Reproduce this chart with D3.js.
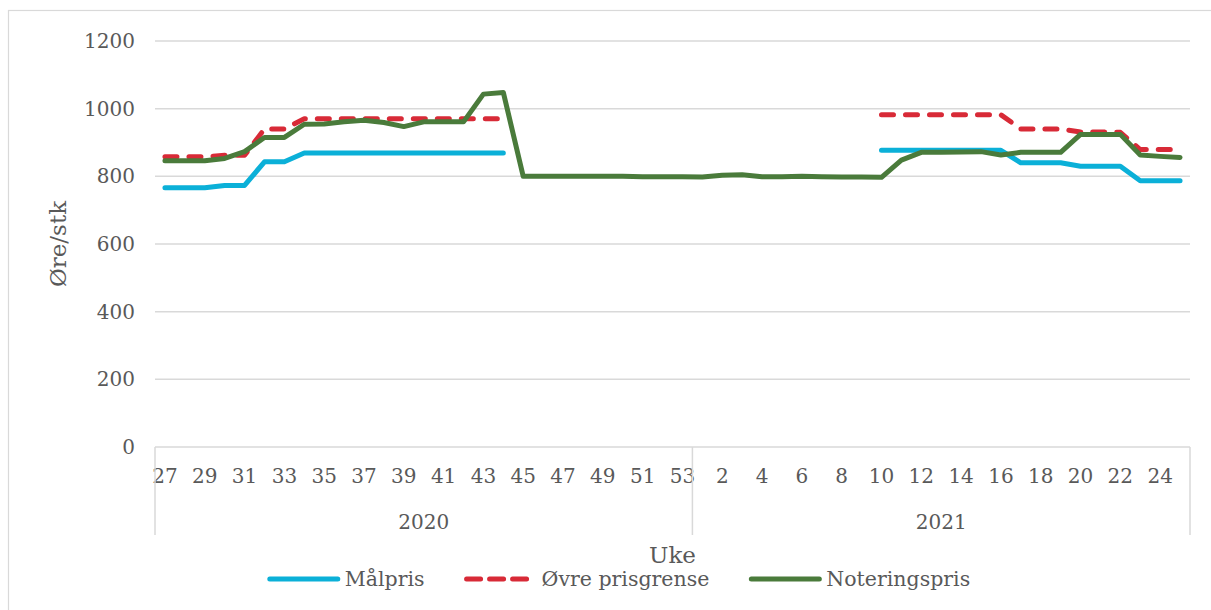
<!DOCTYPE html>
<html>
<head>
<meta charset="utf-8">
<script src="https://cdn.jsdelivr.net/npm/d3@7"></script>
<style>
  html, body { margin: 0; padding: 0; background: #fff; }
  svg { display: block; }
  text { font-family: "DejaVu Serif", "Liberation Serif", serif; fill: #595959; }
</style>
</head>
<body>
<svg id="chart" width="1211" height="610"></svg>
<script>
// ---- data ----
const years = ["2020", "2021"];
const weeks2020 = d3.range(27, 54);   // 27..53
const weeks2021 = d3.range(1, 26);    // 1..25
const yTicks = [0, 200, 400, 600, 800, 1000, 1200];
const seriesNames = ["Målpris", "Øvre prisgrense", "Noteringspris"];

// Målpris (null = no value), weeks 27..53 of 2020
const malpris2020 = [766, 766, 766, 773, 773, 843, 843,
  869, 869, 869, 869, 869, 869, 869, 869, 869, 869, 869,
  null, null, null, null, null, null, null, null, null];
// weeks 1..25 of 2021
const malpris2021 = [null, null, null, null, null, null, null, null, null,
  877, 877, 877, 877, 877, 877, 877, 840, 840, 840, 830, 830, 830, 787, 787, 787];

// Øvre prisgrense
const ovre2020 = [858, 858, 858, 862, 862, 940, 940,
  970, 970, 970, 970, 970, 970, 970, 970, 970, 970, 970,
  null, null, null, null, null, null, null, null, null];
const ovre2021 = [null, null, null, null, null, null, null, null, null,
  982, 982, 982, 982, 982, 982, 982, 940, 940, 940, 931, 931, 930, 879, 879, 879];

// Noteringspris
const notering2020 = [846, 846, 846, 853, 873, 915, 915, 954, 955, 961, 966, 959, 947, 961, 961, 961, 1043, 1048,
  800, 800, 800, 800, 800, 800, 799, 799, 799];
const notering2021 = [798, 803, 805, 799, 799, 800, 799, 798, 798, 797, 848, 871, 871, 872, 873, 863,
  871, 871, 871, 924, 924, 924, 863, 859, 856];

// ---- build categories ----
const cats = [];
weeks2020.forEach(w => cats.push({ key: "2020-" + w, year: "2020", week: w }));
weeks2021.forEach(w => cats.push({ key: "2021-" + w, year: "2021", week: w }));

function pad(arr, n) { const a = arr.slice(); while (a.length < n) a.push(null); return a.slice(0, n); }
const malpris = pad(malpris2020, weeks2020.length).concat(pad(malpris2021, weeks2021.length));
const ovre = pad(ovre2020, weeks2020.length).concat(pad(ovre2021, weeks2021.length));
const notering = pad(notering2020, weeks2020.length).concat(pad(notering2021, weeks2021.length));

const colors = ["#0bb0d8", "#d82a37", "#4a7b3b"];
const dashes = [null, "12 12", null];
const seriesVals = [malpris, ovre, notering];

// ---- layout ----
const svg = d3.select("#chart");
const plotLeft = 155, plotRight = 1190, plotTop = 41, plotBottom = 447;

// outer border
svg.append("rect").attr("x", 8.5).attr("y", 10.5).attr("width", 1220).attr("height", 620)
  .attr("fill", "none").attr("stroke", "#d9d9d9").attr("stroke-width", 1.2);

const x = d3.scaleBand().domain(cats.map(c => c.key)).range([plotLeft, plotRight]).paddingInner(0).paddingOuter(0);
const y = d3.scaleLinear().domain([0, 1200]).range([plotBottom, plotTop]);
const cx = k => x(k) + x.bandwidth() / 2;

// gridlines
svg.append("g").selectAll("line").data(yTicks.filter(t => t > 0)).join("line")
  .attr("x1", plotLeft).attr("x2", plotRight)
  .attr("y1", d => y(d)).attr("y2", d => y(d))
  .attr("stroke", "#d9d9d9").attr("stroke-width", 1.5);

// y axis labels
const yAxis = d3.axisLeft(y).tickValues(yTicks).tickFormat(d3.format("d")).tickSize(0).tickPadding(20);
const yg = svg.append("g").attr("transform", `translate(${plotLeft},0)`).call(yAxis);
yg.select(".domain").remove();
yg.selectAll("text").attr("font-size", 20).attr("fill", "#595959")
  .style("font-family", '"DejaVu Serif", serif');

// x axis baseline
svg.append("line").attr("x1", plotLeft).attr("x2", plotRight)
  .attr("y1", y(0)).attr("y2", y(0)).attr("stroke", "#d9d9d9").attr("stroke-width", 1.5);

// x axis week labels (every other category)
const xAxis = d3.axisBottom(x).tickSize(0).tickPadding(22)
  .tickValues(cats.filter((c, i) => i % 2 === 0).map(c => c.key))
  .tickFormat(k => k.split("-")[1]);
const xg = svg.append("g").attr("transform", `translate(0,${y(0)})`).call(xAxis);
xg.select(".domain").remove();
xg.selectAll("text").attr("font-size", 20).attr("fill", "#595959")
  .style("font-family", '"DejaVu Serif", serif');

// year group separators
const sepXs = [plotLeft, x("2021-1"), plotRight];
svg.append("g").selectAll("line").data(sepXs).join("line")
  .attr("x1", d => d).attr("x2", d => d).attr("y1", y(0)).attr("y2", 535)
  .attr("stroke", "#d9d9d9").attr("stroke-width", 1.5);

// year labels
years.forEach((yr, i) => {
  svg.append("text").attr("x", (sepXs[i] + sepXs[i + 1]) / 2).attr("y", 529)
    .attr("text-anchor", "middle").attr("font-size", 20).text(yr);
});

// axis titles
svg.append("text").attr("transform", `translate(66,244) rotate(-90)`)
  .attr("text-anchor", "middle").attr("font-size", 23).text("Øre/stk");
svg.append("text").attr("x", (plotLeft + plotRight) / 2).attr("y", 563)
  .attr("text-anchor", "middle").attr("font-size", 23).text("Uke");

// lines
const line = d3.line().defined(d => d.v != null).x(d => cx(d.k)).y(d => y(d.v));
seriesVals.forEach((vals, si) => {
  const data = cats.map((c, i) => ({ k: c.key, v: vals[i] }));
  svg.append("path").datum(data).attr("d", line)
    .attr("fill", "none").attr("stroke", colors[si]).attr("stroke-width", 5)
    .attr("stroke-linejoin", "round").attr("stroke-linecap", "round")
    .attr("stroke-dasharray", dashes[si]);
});

// legend
const legY = 579, lineLen = 70, textGap = 7, itemGap = 40, legFont = 20.5;
const legG = svg.append("g");
let cursor = 0;
seriesNames.forEach((name, i) => {
  const g = legG.append("g");
  g.append("line").attr("x1", cursor + 2).attr("x2", cursor + lineLen).attr("y1", legY).attr("y2", legY)
    .attr("stroke", colors[i]).attr("stroke-width", 5).attr("stroke-linecap", "round")
    .attr("stroke-dasharray", i === 1 ? "14 9" : null);
  const t = g.append("text").attr("x", cursor + lineLen + textGap).attr("y", legY + 7)
    .attr("font-size", legFont).text(name);
  const w = t.node().getComputedTextLength();
  cursor += lineLen + textGap + w + itemGap;
});
const totalW = cursor - itemGap;
legG.attr("transform", `translate(${619 - totalW / 2},0)`);
</script>
</body>
</html>
